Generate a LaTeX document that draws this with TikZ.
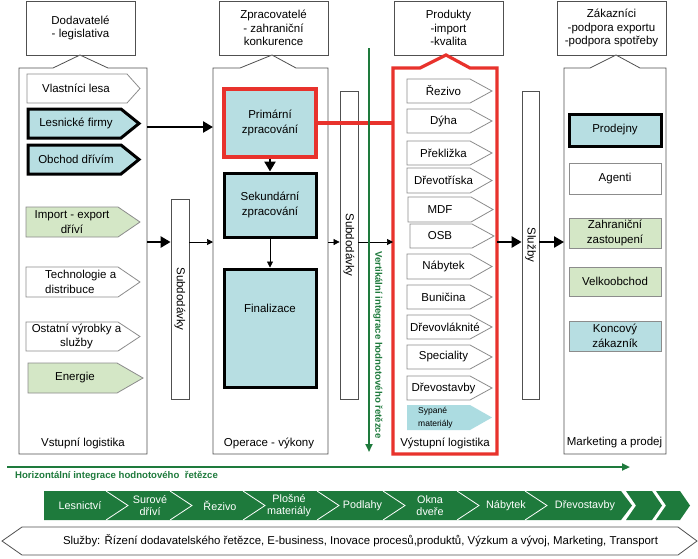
\documentclass[tikz,border=0pt]{standalone}
\usepackage{fontspec}
\setmainfont{Liberation Sans}
\usetikzlibrary{arrows.meta}
\definecolor{lblue}{HTML}{B7DEE2}
\definecolor{sblue}{HTML}{ACDCE1}
\definecolor{lgreen}{HTML}{D4E7C6}
\definecolor{myred}{HTML}{E8322C}
\definecolor{dgreen}{HTML}{1E7A3C}
\definecolor{bgray}{HTML}{8C8C8C}
\definecolor{cgray}{HTML}{505050}
\newcommand\rbox[7]{\node[#2,minimum width={(#5-#3)*1pt},minimum height={(#6-#4)*1pt}] (#1) at ({(#3+#5)/2},{-(#4+#6)/2}) {#7};}
\newcommand\pent[9]{\path[#2] (#3,-#4) -- ({#5-#7},-#4) -- (#5,{-(#4+#6)/2}) -- ({#5-#7},-#6) -- (#3,-#6) -- cycle;
  \node[txt] (#1) at (#8,{-(#4+#6)/2}) {#9};}
\newcommand\house[6]{\path[#1] (#2,-68) -- (#4,-68) -- (#5,-55) -- (#6,-68) -- (#3,-68) -- (#3,-454) -- (#2,-454) -- cycle;}
\begin{document}
\begin{tikzpicture}[x=1pt,y=1pt,
  txt/.style={font=\fontsize{11.5}{14.5}\selectfont,align=center,inner sep=0pt},
  hdr/.style={draw=cgray,line width=0.8pt,fill=white,font=\fontsize{11.5}{13.5}\selectfont,align=center,inner sep=0pt},
  colframe/.style={draw=cgray,line width=0.8pt,fill=white},
  redframe/.style={draw=myred,line width=3.2pt,fill=white},
  thinitem/.style={draw=bgray,line width=0.8pt},
  thickitem/.style={draw=black,line width=3pt},
  bar/.style={draw=cgray,line width=0.8pt,fill=white,inner sep=0pt},
  ghost/.style={inner sep=0pt,outer sep=0pt},
  thickarr/.style={line width=2.6pt,-{Triangle[length=10pt,width=11pt]}},
  thinarr/.style={line width=0.7pt,-{Triangle[length=6pt,width=6pt]}},
  garr/.style={dgreen,line width=2pt,-{Triangle[length=8pt,width=7pt]}},
  gtxt/.style={font=\fontsize{9.6}{11}\selectfont\bfseries,text=dgreen,inner sep=0pt},
  chaintxt/.style={font=\fontsize{10.8}{12}\selectfont,align=center,inner sep=0pt,text=white},
  ]
\useasboundingbox (0,0) rectangle (698,-558);
\fill[white] (0,0) rectangle (698,-558);

% headers
\rbox{h1}{hdr}{26}{1}{135}{55}{Dodavatelé\\- legislativa}
\rbox{h2}{hdr}{219}{1}{328}{55}{Zpracovatelé\\- zahraniční\\konkurence}
\rbox{h3}{hdr}{394}{1}{503}{55}{Produkty\\-import\\-kvalita}
\rbox{h4}{hdr}{557}{1}{666}{55}{Zákazníci\\-podpora exportu\\-podpora spotřeby}

% column frames
\house{colframe}{19}{147}{53}{80}{108}
\house{colframe}{213}{328}{240}{272}{296}
\house{redframe}{393}{497}{420}{446}{470}
\house{colframe}{564}{666}{590}{616}{640}
\rbox{c1}{ghost}{19}{68}{147}{454}{}
\rbox{c2}{ghost}{213}{68}{328}{454}{}
\rbox{c3}{ghost}{393}{68}{497}{454}{}
\rbox{c4}{ghost}{564}{68}{666}{454}{}

% column 1 items
\pent{vl}{thinitem,fill=white}{27}{74}{140}{103}{13}{76}{Vlastníci lesa}
\pent{lf}{thickitem,fill=lblue}{28}{109}{139}{138}{18}{76}{Lesnické firmy}
\pent{od}{thickitem,fill=lblue}{28}{145}{139}{174}{18}{76}{Obchod dřívím}
\pent{ie}{thinitem,fill=lgreen}{26}{207}{140}{237}{22}{72}{Import - export\\dříví}
\pent{td}{thinitem,fill=white}{26}{267}{140}{297}{22}{81.5}{}
\node[txt,align=left,anchor=west] (tdt) at (45,-282) {Technologie a\\distribuce};
\pent{ov}{thinitem,fill=white}{26}{322}{140}{351}{22}{76.5}{Ostatní výrobky a\\služby}
\pent{en}{thinitem,fill=lgreen}{28}{363}{143}{393}{26}{75}{Energie}

% column 2 items
\rbox{prim}{txt,draw=myred,line width=3.2pt,fill=lblue}{224}{89}{316}{157}{Primární\\zpracování}
\rbox{sek}{txt,thickitem,fill=lblue}{224}{173}{316}{237}{Sekundární\\zpracování}
\rbox{fin}{txt,thickitem,fill=lblue}{224}{269}{316}{387}{}
\node[txt] (fint) at (270,-308) {Finalizace};

% column 3 items
\pent{p1}{thinitem,fill=white}{407}{79}{492}{103}{22}{443.5}{Řezivo}
\pent{p2}{thinitem,fill=white}{407}{109}{492}{133}{22}{443.5}{Dýha}
\pent{p3}{thinitem,fill=white}{407}{141}{492}{165}{22}{443.5}{Překližka}
\pent{p4}{thinitem,fill=white}{407}{168}{492}{193}{22}{443.5}{Dřevotříska}
\pent{p5}{thinitem,fill=white}{408}{197}{493}{222}{22}{440}{MDF}
\pent{p6}{thinitem,fill=white}{410}{224}{494}{248}{22}{440}{OSB}
\pent{p7}{thinitem,fill=white}{407}{254}{492}{279}{22}{443.5}{Nábytek}
\pent{p8}{thinitem,fill=white}{407}{285}{492}{309}{22}{443.5}{Buničina}
\pent{p9}{thinitem,fill=white}{407}{315}{492}{339}{22}{445}{Dřevovláknité}
\pent{p10}{thinitem,fill=white}{407}{345}{492}{369}{22}{443.5}{Speciality}
\pent{p11}{thinitem,fill=white}{407}{376}{492}{400}{22}{443.5}{Dřevostavby}
\pent{p12}{fill=sblue}{407}{405}{492}{430}{22}{443.5}{}
\node[font=\fontsize{8.5}{13}\selectfont,align=left,inner sep=0pt,anchor=west] (p12t) at (418,-417.5) {Sypané\\materiály};

% column 4 items
\rbox{pr}{txt,thickitem,fill=lblue}{569}{114}{661}{146}{Prodejny}
\rbox{ag}{txt,thinitem,fill=white}{569}{163}{661}{194}{Agenti}
\rbox{za}{txt,thinitem,fill=lgreen}{569}{218}{661}{248}{Zahraniční\\zastoupení}
\rbox{vo}{txt,thinitem,fill=lgreen}{569}{267}{661}{296}{Velkoobchod}
\rbox{kz}{txt,thinitem,fill=lblue}{569}{321}{661}{351}{Koncový\\zákazník}

% bottom labels of columns
\node[txt] (l1) at (83,-443) {Vstupní logistika};
\node[txt] (l2) at (269,-443) {Operace - výkony};
\node[txt] (l3) at (445,-443) {Výstupní logistika};
\node[txt] (l4) at (614.5,-443) {Marketing a prodej};

% vertical bars
\rbox{s1}{bar}{171}{199}{189}{399}{}
\rbox{s2}{bar}{340}{91}{358}{399}{}
\rbox{sl}{bar}{522}{91}{539}{399}{}
\node[txt,rotate=-90] (s1t) at (s1) {Subdodávky};
\node[txt,rotate=-90] (s2t) at (s2) {Subdodávky};
\node[txt,rotate=-90] (slt) at (sl) {Služby};

% connectors
\coordinate (fy) at (0,-242);
\coordinate (ly) at (0,-127);
\draw[thickarr] (c1.east |- ly) -- (c2.west |- ly);
\draw[thickarr] (c1.east |- fy) -- (s1.west |- fy);
\draw[thinarr] (s1.east |- fy) -- (c2.west |- fy);
\draw[thinarr] (c2.east |- fy) -- (s2.west |- fy);
\draw[thinarr] (s2.east |- fy) -- (c3.west |- fy);
\draw[thickarr] (c3.east |- fy) -- (sl.west |- fy);
\draw[thickarr] (sl.east |- fy) -- (c4.west |- fy);
\draw[thickarr] (prim.south) -- (sek.north);
\draw[thinarr] (sek.south) -- (fin.north);
\draw[myred,line width=3.2pt] (prim.east) -- (c3.west |- prim.east);

% vertical integration
\coordinate (gv1) at (369,-48);
\coordinate (gv2) at (369,-452);
\draw[garr] (gv1) -- (gv2);
\node[gtxt,rotate=-90] (vt) at (378,-345) {Vertikální integrace hodnotového řetězce};

% horizontal integration
\coordinate (gh1) at (7,-467);
\coordinate (gh2) at (630,-467);
\draw[garr] (gh1) -- (gh2);
\node[gtxt,anchor=west] (ht) at (15,-475.5) {Horizontální integrace hodnotového\ \ řetězce};

% value chain
\fill[dgreen] (44,-491) -- (621,-491) -- (632,-505.5) -- (621,-520) -- (44,-520) -- cycle;
\foreach \b in {106,170,243,317,383,457,525}
  \draw[white,line width=0.8pt] (\b,-491) -- ({\b+22},-505.5) -- (\b,-520);
\fill[dgreen] (626,-491) -- (652,-491) -- (662,-505.5) -- (652,-520) -- (626,-520) -- (636,-505.5) -- cycle;
\fill[dgreen] (656,-491) -- (680,-491) -- (690,-505.5) -- (680,-520) -- (656,-520) -- (666,-505.5) -- cycle;
\node[chaintxt] (k1) at (80,-505.5) {Lesnictví};
\node[chaintxt] (k2) at (150,-505.5) {Surové\\dříví};
\node[chaintxt] (k3) at (220,-505.5) {Řezivo};
\node[chaintxt] (k4) at (289,-505.5) {Plošné\\materiály};
\node[chaintxt] (k5) at (362.5,-505.5) {Podlahy};
\node[chaintxt] (k6) at (430,-505.5) {Okna\\dveře};
\node[chaintxt] (k7) at (506,-505.5) {Nábytek};
\node[chaintxt] (k8) at (585,-505.5) {Dřevostavby};

% services double arrow
\draw[cgray,line width=0.8pt,fill=white] (22,-527) -- (678,-527) -- (697,-541) -- (678,-555) -- (22,-555) -- (2,-541) -- cycle;
\node[txt,font=\fontsize{11.4}{13}\selectfont] (sv) at (360.5,-541) {Služby: Řízení dodavatelského řetězce, E-business, Inovace procesů,produktů, Výzkum a vývoj, Marketing, Transport};
\end{tikzpicture}
\end{document}
